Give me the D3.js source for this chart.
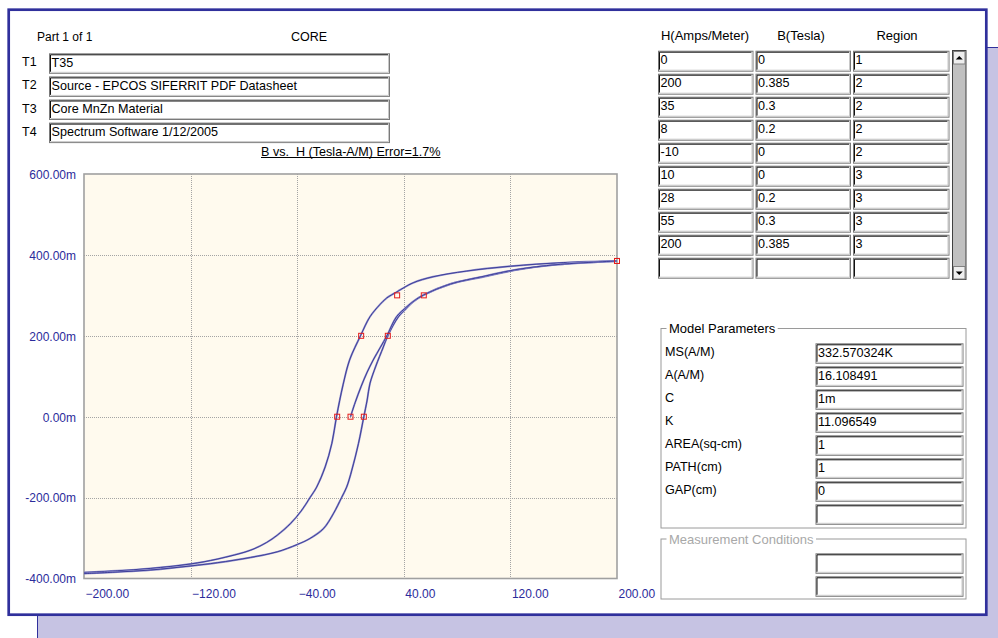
<!DOCTYPE html>
<html>
<head>
<meta charset="utf-8">
<script src="https://cdn.jsdelivr.net/npm/d3@7"></script>
<style>
  html, body { margin: 0; padding: 0; background: #fff; }
  svg { display: block; font-family: "Liberation Sans", Arial, sans-serif; }
</style>
</head>
<body>
<svg id="chart" width="998" height="638"></svg>
<script>
// ---- header fields ----
const partLabel = "Part 1 of 1";
const deviceLabel = "CORE";
const titleKeys = ["T1", "T2", "T3", "T4"];
const titleValues = ["T35", "Source - EPCOS SIFERRIT PDF Datasheet", "Core MnZn Material", "Spectrum Software 1/12/2005"];
const plotTitle = "B vs.  H (Tesla-A/M) Error=1.7%";

// ---- measured B-H points (table + markers) ----
const tableHeaders = ["H(Amps/Meter)", "B(Tesla)", "Region"];
const measH = [0, 200, 35, 8, -10, 10, 28, 55, 200];
const measB = [0, 0.385, 0.3, 0.2, 0, 0, 0.2, 0.3, 0.385];
const measRegion = [1, 2, 2, 2, 2, 3, 3, 3, 3];

// ---- fitted model curves: [H (A/m), B (T)] ----
const initialCurve = [
  [0, 0], [3.5, 0.035], [8, 0.075], [12.5, 0.11], [17, 0.14], [22.5, 0.172],
  [27.3, 0.2], [34.5, 0.247], [42, 0.271], [48, 0.287], [55, 0.301],
  [75, 0.328], [100, 0.347], [125, 0.364], [155, 0.376], [200, 0.385]
];
const descendingBranch = [
  [200, 0.385], [160, 0.381], [120, 0.372], [87, 0.360], [62, 0.346],
  [47, 0.331], [35, 0.309], [27, 0.293], [22, 0.277],
  [14.6, 0.247], [7.5, 0.2], [-0.7, 0.14], [-5.5, 0.08], [-10.5, 0],
  [-14, -0.066], [-19, -0.124], [-25.4, -0.174], [-30.4, -0.2],
  [-37, -0.233], [-45, -0.264], [-55, -0.293], [-63, -0.311],
  [-75, -0.33], [-100, -0.352], [-120, -0.364], [-150, -0.375],
  [-175, -0.381], [-200, -0.385]
];
const ascendingBranch = [
  [-200, -0.388], [-175, -0.384], [-150, -0.379], [-120, -0.369],
  [-100, -0.361], [-75, -0.348], [-55, -0.334], [-40, -0.316],
  [-30.4, -0.301], [-20.4, -0.277], [-12.9, -0.24], [-6.7, -0.2],
  [-2.9, -0.174], [1, -0.132], [6, -0.066], [10, 0], [12.5, 0.041],
  [14.6, 0.082], [19, 0.125], [24.6, 0.172], [28, 0.2], [36, 0.247],
  [42, 0.268], [47, 0.284], [55, 0.301], [75, 0.328], [100, 0.346],
  [125, 0.363], [155, 0.376], [200, 0.385]
];

// ---- axis ticks ----
const hTicks = [-200, -120, -40, 40, 120, 200];
const bTicks = [-0.4, -0.2, 0, 0.2, 0.4, 0.6];

// ---- model parameter panel ----
const paramLabels = ["MS(A/M)", "A(A/M)", "C", "K", "AREA(sq-cm)", "PATH(cm)", "GAP(cm)", ""];
const paramValues = ["332.570324K", "16.108491", "1m", "11.096549", "1", "1", "0", ""];
const measureLabel = "Measurement Conditions";

const svg = d3.select("#chart");
const BLUE = "#30309c";
const FS = 12.6;

// background panel and main frame
svg.append("rect").attr("x", 37.5).attr("y", 47.5).attr("width", 1000).attr("height", 700)
  .attr("fill", "#c6c3e3").attr("stroke", BLUE).attr("stroke-width", 1);
svg.append("rect").attr("x", 8.7).attr("y", 9.7).attr("width", 977.6).attr("height", 605)
  .attr("fill", "#fff").attr("stroke", BLUE).attr("stroke-width", 2.7);

// sunken edit box
function editBox(g, x0, y0, w, h, text) {
  const b = g.append("g");
  b.append("rect").attr("x", x0 + 0.5).attr("y", y0 + 0.5).attr("width", w - 1).attr("height", h - 1)
    .attr("fill", "#fff").attr("stroke", "#7a7a7a");
  b.append("path").attr("d", `M${x0 + 1.5},${y0 + h - 2}V${y0 + 1.5}H${x0 + w - 2}`)
    .attr("fill", "none").attr("stroke", "#111");
  b.append("path").attr("d", `M${x0 + 1.5},${y0 + h - 1.5}H${x0 + w - 1.5}V${y0 + 1.5}`)
    .attr("fill", "none").attr("stroke", "#c8c8c8");
  if (text !== undefined && text !== "") {
    b.append("text").attr("x", x0 + 2.5).attr("y", y0 + 13.5)
      .attr("font-size", FS).attr("fill", "#000").text(text);
  }
}

// ---- header ----
svg.append("text").attr("x", 37).attr("y", 41).attr("font-size", 12).text(partLabel);
svg.append("text").attr("x", 309).attr("y", 41).attr("font-size", 12.5).attr("text-anchor", "middle").text(deviceLabel);
titleKeys.forEach((k, i) => {
  const top = 53.3 + i * 23.1;
  svg.append("text").attr("x", 22).attr("y", top + 13).attr("font-size", 12.5).text(k);
  editBox(svg, 49, top, 341, 20.5, titleValues[i]);
});

// ---- plot ----
const x = d3.scaleLinear().domain([-200, 200]).range([84, 617]);
const y = d3.scaleLinear().domain([-0.4, 0.6]).range([578.5, 174]);

const titleText = svg.append("text").attr("x", 261).attr("y", 155.5).attr("font-size", FS)
  .attr("fill", "#000").style("white-space", "pre").text(plotTitle);
const tw = titleText.node().getComputedTextLength();
svg.append("line").attr("x1", 261).attr("x2", 261 + tw).attr("y1", 157.5).attr("y2", 157.5)
  .attr("stroke", "#000").attr("stroke-width", 1);

svg.append("rect").attr("x", x(-200)).attr("y", y(0.6)).attr("width", x(200) - x(-200))
  .attr("height", y(-0.4) - y(0.6)).attr("fill", "#fffaee");

const grid = svg.append("g").attr("stroke", "#a4a4a4").attr("stroke-dasharray", "1,1").attr("stroke-width", 1);
grid.selectAll("line.v").data(hTicks.slice(1, -1)).join("line").attr("class", "v")
  .attr("x1", d => Math.round(x(d)) + 0.5).attr("x2", d => Math.round(x(d)) + 0.5)
  .attr("y1", y(0.6)).attr("y2", y(-0.4));
grid.selectAll("line.h").data(bTicks.slice(1, -1)).join("line").attr("class", "h")
  .attr("y1", d => Math.round(y(d)) + 0.5).attr("y2", d => Math.round(y(d)) + 0.5)
  .attr("x1", x(-200)).attr("x2", x(200));

svg.append("rect").attr("x", x(-200)).attr("y", y(0.6)).attr("width", x(200) - x(-200))
  .attr("height", y(-0.4) - y(0.6)).attr("fill", "none").attr("stroke", "#a0a0a0").attr("stroke-width", 1.6);

// axes
const xAxis = svg.append("g").attr("transform", `translate(0,${y(-0.4)})`)
  .call(d3.axisBottom(x).tickValues(hTicks).tickSize(0).tickPadding(0).tickFormat(d3.format(".2f")));
const yAxis = svg.append("g").attr("transform", "translate(76,0)")
  .call(d3.axisLeft(y).tickValues(bTicks).tickSize(0).tickPadding(0)
    .tickFormat(v => (v * 1000).toFixed(2) + "m"));
[xAxis, yAxis].forEach(a => {
  a.select(".domain").remove();
  a.selectAll("text").attr("font-size", 12).attr("font-family", "Liberation Sans, Arial, sans-serif")
    .attr("fill", "#2b2b9b");
});
xAxis.selectAll("text").attr("text-anchor", "start").attr("x", 1).attr("y", 19).attr("dy", 0);
yAxis.selectAll("text").attr("dy", "0.36em");

// model curves
const line = d3.line().x(d => x(d[0])).y(d => y(d[1])).curve(d3.curveCatmullRom.alpha(0.5));
const curves = svg.append("g").attr("fill", "none").attr("stroke-linejoin", "round");
[descendingBranch, ascendingBranch, initialCurve].forEach(c => {
  curves.append("path").attr("d", line(c)).attr("stroke", "#9090cc").attr("stroke-width", 1.9);
  curves.append("path").attr("d", line(c)).attr("stroke", "#2a2a8c").attr("stroke-width", 0.8);
});

// measured markers
svg.append("g").selectAll("rect").data(measH.map((h, i) => [h, measB[i]])).join("rect")
  .attr("x", d => x(d[0]) - 2.5).attr("y", d => y(d[1]) - 2.5)
  .attr("width", 5).attr("height", 5)
  .attr("fill", "none").attr("stroke", "#e41c1c").attr("stroke-width", 1);

// ---- data table ----
const colX = [658, 755.5, 853];
const colW = [95.5, 95.5, 96.5];
const colCenter = [705, 801, 897];
tableHeaders.forEach((h, i) => {
  svg.append("text").attr("x", colCenter[i]).attr("y", 39.5).attr("font-size", 13)
    .attr("text-anchor", "middle").text(h);
});
for (let r = 0; r < 10; r++) {
  const top = 50.7 + r * 23;
  const vals = r < measH.length ? [String(measH[r]), String(measB[r]), String(measRegion[r])] : ["", "", ""];
  vals.forEach((v, c) => editBox(svg, colX[c], top, colW[c], 21, v));
}

// scrollbar
const sb = svg.append("g");
const sbX = 952.5, sbTop = 50.5, sbBot = 279.5, sbW = 13.5;
sb.append("rect").attr("x", sbX).attr("y", sbTop).attr("width", sbW).attr("height", sbBot - sbTop)
  .attr("fill", "#c0c0c0").attr("stroke", "#404040");
[[sbTop, 1], [sbBot - 14, -1]].forEach(([ty, dir]) => {
  sb.append("rect").attr("x", sbX + 1).attr("y", ty + 1).attr("width", sbW - 2).attr("height", 12.5)
    .attr("fill", "#eeeeee").attr("stroke", "#808080").attr("stroke-width", 1);
  const cx = sbX + sbW / 2, cy = ty + 7.5;
  sb.append("path").attr("fill", "#000")
    .attr("d", dir > 0 ? `M${cx - 3.5},${cy + 1.5}L${cx + 3.5},${cy + 1.5}L${cx},${cy - 2}Z`
                       : `M${cx - 3.5},${cy - 1.5}L${cx + 3.5},${cy - 1.5}L${cx},${cy + 2}Z`);
});

// ---- group boxes ----
function groupBox(x0, y0, x1, y1, label, color) {
  const g = svg.append("g");
  g.append("rect").attr("x", x0 + 0.5).attr("y", y0 + 0.5).attr("width", x1 - x0).attr("height", y1 - y0)
    .attr("fill", "none").attr("stroke", "#9a9a9a");
  const bg = g.append("rect").attr("fill", "#fff");
  const t = g.append("text").attr("x", x0 + 8.5).attr("y", y0 + 5).attr("font-size", 13)
    .attr("fill", color).text(label);
  const w = t.node().getComputedTextLength();
  bg.attr("x", x0 + 6).attr("y", y0 - 3).attr("width", w + 5).attr("height", 6);
}
groupBox(660.5, 328, 965.5, 527.5, "Model Parameters", "#000");
paramLabels.forEach((lab, i) => {
  const top = 343.3 + i * 23;
  if (lab) svg.append("text").attr("x", 665).attr("y", top + 12.5).attr("font-size", FS).text(lab);
  editBox(svg, 815.5, top, 148, 20.5, paramValues[i]);
});
groupBox(660.5, 538.5, 965.5, 598.5, measureLabel, "#a8a8a8");
editBox(svg, 815.5, 553.3, 148, 20.5, "");
editBox(svg, 815.5, 576.3, 148, 20.5, "");
</script>
</body>
</html>
